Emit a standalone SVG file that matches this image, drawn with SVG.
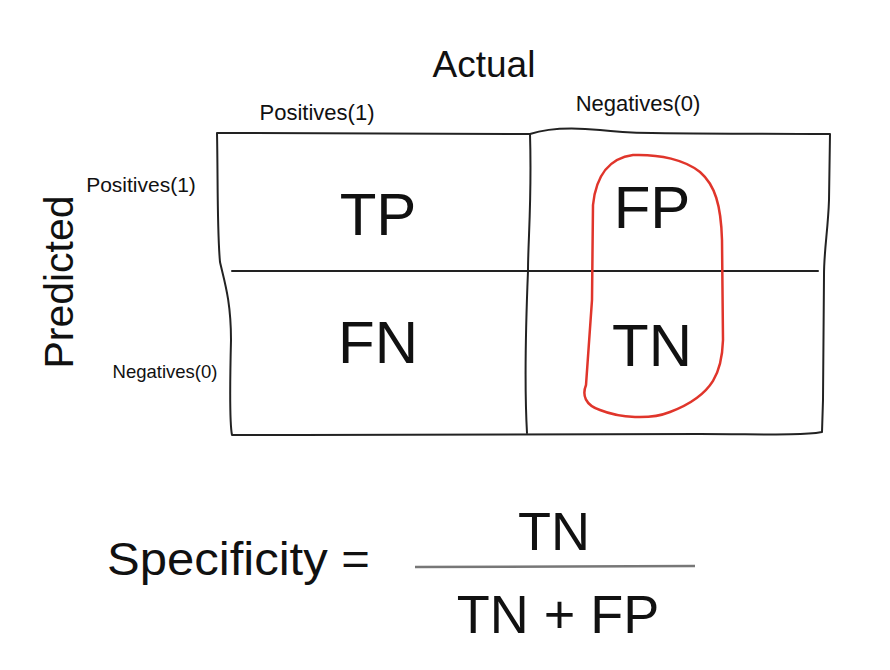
<svg xmlns="http://www.w3.org/2000/svg" width="890" height="670" viewBox="0 0 890 670">
<style>
text{font-family:"Liberation Sans",Arial,sans-serif;fill:#111}
.ln{fill:none;stroke:#222;stroke-width:2;stroke-linecap:round;stroke-linejoin:round}
.big{font-size:60px;text-anchor:middle}
</style>
<rect width="890" height="670" fill="#fff"/>
<g id="grid">
<path class="ln" d="M217,133 L530,134 C545,129 570,127 600,130 C640,135 700,133 830,134 L829,200 C828,230 824,250 824,275 L823,400 L822,432 C800,436 760,434 700,434 L300,435 L232,435 C229,420 230,380 231,340 C231,300 224,280 220,262 C217,230 218,180 217,133 Z"/>
<path class="ln" d="M232,271 L818,271"/>
<path class="ln" d="M530,134 C532,200 528,240 528,271 C526,320 524,380 527,433"/>
</g>
<g id="labels">
<text x="484" y="77" font-size="37" text-anchor="middle">Actual</text>
<text x="317" y="120" font-size="22" text-anchor="middle">Positives(1)</text>
<text x="638" y="111" font-size="22" text-anchor="middle">Negatives(0)</text>
<text x="141" y="192" font-size="21" text-anchor="middle">Positives(1)</text>
<text x="165" y="378" font-size="18.5" text-anchor="middle">Negatives(0)</text>
<text transform="translate(73,282) rotate(-90)" font-size="41" text-anchor="middle">Predicted</text>
</g>
<g id="cells">
<text class="big" x="378" y="235">TP</text>
<text class="big" x="652" y="228">FP</text>
<text class="big" x="378" y="363">FN</text>
<text class="big" x="652" y="366">TN</text>
</g>
<g id="highlight">
<path d="M633,155 C610,158 596,175 593,205 L592,300 L586,385 C582,395 585,405 600,410 C620,418 650,420 670,412 C715,395 722,370 723,340 L722,240 C721,205 715,185 700,172 C685,160 660,154 633,155 Z" fill="none" stroke="#e0352b" stroke-width="2.5" stroke-linejoin="round"/>
</g>
<g id="formula">
<text x="107" y="575" font-size="47" textLength="263" lengthAdjust="spacingAndGlyphs">Specificity =</text>
<text x="554" y="550" font-size="54" text-anchor="middle">TN</text>
<line x1="415" y1="567" x2="695" y2="566" stroke="#777" stroke-width="2.5"/>
<text x="558" y="633" font-size="54" text-anchor="middle">TN + FP</text>
</g>
</svg>
